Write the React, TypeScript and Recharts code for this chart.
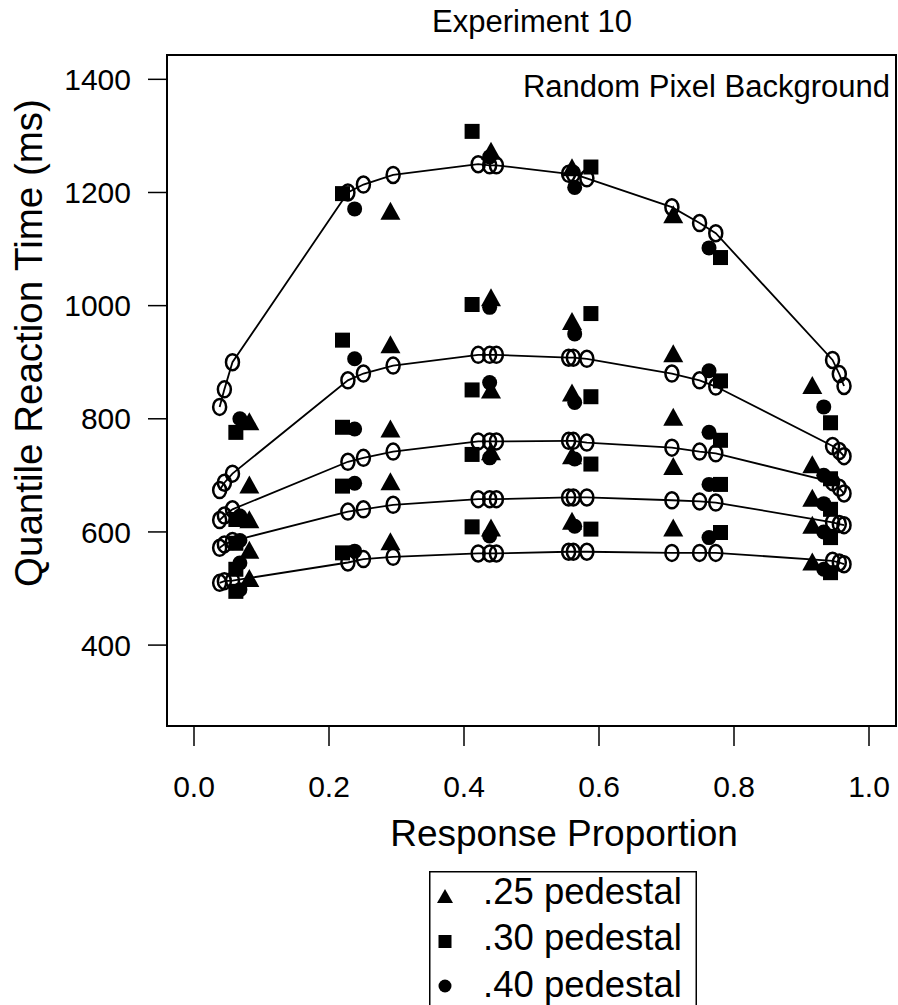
import React from 'react';
import { ScatterChart, Scatter, XAxis, YAxis, ReferenceArea, Legend, Label } from 'recharts';

const FONT = '"Liberation Sans", Arimo, Arial, Helvetica, sans-serif';

// axis ticks
const xTicks = [0, 0.2, 0.4, 0.6, 0.8, 1.0];
const yTicks = [400, 600, 800, 1000, 1200, 1400];

// model predictions (open circles joined by lines), one array per quantile
const modelX = [0.038, 0.045, 0.057, 0.228, 0.251, 0.295, 0.421, 0.438, 0.448, 0.555, 0.562, 0.582, 0.708, 0.749, 0.773, 0.946, 0.956, 0.963];
const modelQ90 = [821, 852, 900, 1200, 1214, 1231, 1250, 1248, 1248, 1233, 1233, 1225, 1174, 1146, 1128, 904, 879, 858];
const modelQ70 = [674, 687, 703, 868, 880, 894, 913, 913, 913, 908, 908, 906, 880, 868, 857, 752, 743, 734];
const modelQ50 = [621, 629, 640, 724, 731, 742, 760, 760, 760, 761, 761, 758, 749, 742, 739, 688, 678, 668];
const modelQ30 = [572, 578, 584, 636, 640, 648, 658, 658, 658, 661, 661, 661, 656, 654, 652, 617, 614, 612];
const modelQ10 = [510, 513, 514, 546, 552, 556, 562, 562, 562, 565, 565, 565, 563, 563, 563, 549, 546, 543];

// .25 pedestal (triangles)
const ped25X = [0.082, 0.291, 0.44, 0.56, 0.71, 0.916];
const ped25Q90 = [793, 1165, 1271, 1242, 1159, 857];
const ped25Q70 = [681, 929, 1012, 970, 913, 717];
const ped25Q50 = [620, 780, 849, 844, 801, 658];
const ped25Q30 = [566, 687, 740, 733, 714, 610];
const ped25Q10 = [516, 581, 605, 617, 605, 545];

// .30 pedestal (squares)
const ped30X = [0.062, 0.22, 0.412, 0.588, 0.78, 0.943];
const ped30Q90 = [776, 1198, 1308, 1245, 1085, 793];
const ped30Q70 = [622, 939, 1002, 986, 867, 694];
const ped30Q50 = [580, 785, 851, 839, 762, 640];
const ped30Q30 = [534, 681, 737, 720, 684, 590];
const ped30Q10 = [495, 563, 609, 605, 599, 528];

// .40 pedestal (filled circles)
const ped40X = [0.068, 0.238, 0.438, 0.564, 0.763, 0.933];
const ped40Q90 = [800, 1171, 1263, 1209, 1102, 821];
const ped40Q70 = [628, 906, 997, 950, 885, 700];
const ped40Q50 = [585, 782, 864, 829, 776, 650];
const ped40Q30 = [545, 686, 731, 729, 684, 600];
const ped40Q10 = [498, 566, 593, 610, 590, 534];

const legendLabels = ['.25 pedestal', '.30 pedestal', '.40 pedestal'];

const pts = (xs: number[], ys: number[]) => xs.map((x, i) => ({ x, y: ys[i] }));
const allQ = (xs: number[], qs: number[][]) => qs.flatMap((q) => pts(xs, q));

const modelLines = [modelQ90, modelQ70, modelQ50, modelQ30, modelQ10].map((q) => pts(modelX, q));
const ped25Data = allQ(ped25X, [ped25Q90, ped25Q70, ped25Q50, ped25Q30, ped25Q10]);
const ped30Data = allQ(ped30X, [ped30Q90, ped30Q70, ped30Q50, ped30Q30, ped30Q10]);
const ped40Data = allQ(ped40X, [ped40Q90, ped40Q70, ped40Q50, ped40Q30, ped40Q10]);

const Tri = (p: any) => {
  const { cx, cy } = p;
  return <polygon points={`${cx},${cy - 10.5} ${cx - 10},${cy + 7.5} ${cx + 10},${cy + 7.5}`} fill="#000" />;
};
const Sq = (p: any) => {
  const { cx, cy } = p;
  return <rect x={cx - 7.5} y={cy - 7.5} width={15} height={15} fill="#000" />;
};
const Dot = (p: any) => {
  const { cx, cy } = p;
  return <circle cx={cx} cy={cy} r={7.5} fill="#000" />;
};
const Open = (p: any) => {
  const { cx, cy } = p;
  return <ellipse cx={cx} cy={cy} rx={6.5} ry={8} fill="none" stroke="#000" strokeWidth={2.5} />;
};

const LegendBox = () => (
  <svg width={268} height={140} style={{ display: 'block', overflow: 'hidden' }}>
    <rect x={0.75} y={0.75} width={266.5} height={300} fill="none" stroke="#000" strokeWidth={1.5} />
    <polygon points="16,18 8,32 24,32" fill="#000" />
    <rect x={9.5} y={64} width={13} height={13} fill="#000" />
    <circle cx={16} cy={115} r={6.5} fill="#000" />
    {legendLabels.map((t, i) => (
      <text key={t} x={54} y={32.5 + i * 46.7} fontFamily={FONT} fontSize={36.5} fill="#000">
        {t}
      </text>
    ))}
  </svg>
);

const tickStyle = { fontSize: 30, fill: '#000', fontFamily: FONT };

export default function App() {
  return (
    <div style={{ position: 'absolute', left: 0, top: 0, width: 898, height: 1005, overflow: 'hidden', background: '#fff' }}>
      <ScatterChart width={898} height={1005} margin={{ top: 55, right: 2, bottom: 159, left: 0 }}>
        <XAxis
          type="number"
          dataKey="x"
          domain={[-0.04, 1.04]}
          allowDataOverflow
          ticks={xTicks}
          tickFormatter={(v: number) => v.toFixed(1)}
          axisLine={false}
          tickLine={{ stroke: '#000', strokeWidth: 1.5 }}
          tickSize={20}
          tickMargin={30}
          height={120}
          tick={tickStyle}
          interval={0}
        >
          <Label
            content={() => (
              <text x={564} y={846} textAnchor="middle" fontFamily={FONT} fontSize={37} fill="#000">
                Response Proportion
              </text>
            )}
          />
        </XAxis>
        <YAxis
          type="number"
          dataKey="y"
          domain={[257, 1443]}
          allowDataOverflow
          ticks={yTicks}
          axisLine={false}
          tickLine={{ stroke: '#000', strokeWidth: 1.5 }}
          tickSize={19}
          tickMargin={17}
          width={167}
          tick={tickStyle}
          interval={0}
        >
          <Label
            content={() => (
              <text
                x={42}
                y={343}
                transform="rotate(-90 42 343)"
                textAnchor="middle"
                fontFamily={FONT}
                fontSize={38.5}
                fill="#000"
              >
                Quantile Reaction Time (ms)
              </text>
            )}
          />
        </YAxis>
        <ReferenceArea
          x1={-0.04}
          x2={1.04}
          y1={257}
          y2={1443}
          fill="none"
          stroke="#000"
          strokeWidth={2}
          ifOverflow="visible"
        />
        <Scatter name=".25 pedestal" data={ped25Data} shape={Tri} isAnimationActive={false} />
        <Scatter name=".30 pedestal" data={ped30Data} shape={Sq} isAnimationActive={false} />
        <Scatter name=".40 pedestal" data={ped40Data} shape={Dot} isAnimationActive={false} />
        {modelLines.map((d, i) => (
          <Scatter
            key={i}
            data={d}
            shape={Open}
            line={{ stroke: '#000', strokeWidth: 1.8 }}
            legendType="none"
            isAnimationActive={false}
          />
        ))}
        <Legend
          layout="vertical"
          align="center"
          verticalAlign="middle"
          wrapperStyle={{ left: 429, top: 871, width: 268, height: 140 }}
          content={() => <LegendBox />}
        />
      </ScatterChart>
      <svg width={898} height={120} style={{ position: 'absolute', left: 0, top: 0, pointerEvents: 'none' }}>
        <text x={532} y={31.5} textAnchor="middle" fontFamily={FONT} fontSize={31} fill="#000">
          Experiment 10
        </text>
        <text x={890} y={97} textAnchor="end" fontFamily={FONT} fontSize={31} fill="#000">
          Random Pixel Background
        </text>
      </svg>
    </div>
  );
}
